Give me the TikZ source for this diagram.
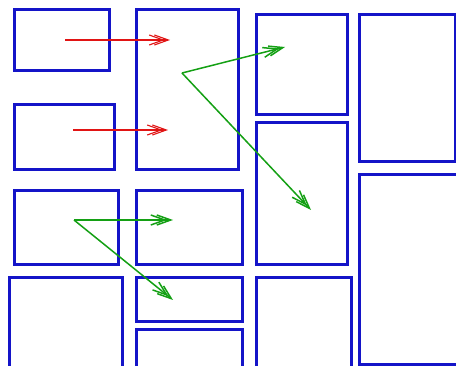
\documentclass[tikz,border=0pt]{standalone}
\usetikzlibrary{arrows.meta}
\definecolor{bx}{RGB}{20,20,200}
\definecolor{rd}{RGB}{225,20,20}
\definecolor{gr}{RGB}{20,160,20}
\tikzset{
  dbarb/.style={-{Straight Barb[length=14pt,width=10pt,sep=-11pt]Straight Barb[length=14pt,width=10pt]}},
  panel/.style={draw=bx, line width=2.6pt, inner sep=0pt, anchor=north west},
  redarrow/.style={draw=rd, line width=1.1pt, dbarb},
  greenarrow/.style={draw=gr, line width=1.5pt, dbarb}
}
\newcommand{\pbox}[5]{\node[panel, minimum width=#4-#2, minimum height=#5-#3] (#1) at (#2,#3) {};}
\begin{document}
\begin{tikzpicture}[x=1pt,y=-1pt]
\useasboundingbox (0,0) rectangle (456,366);
\clip (0,0) rectangle (456,366);
\fill[white] (0,0) rectangle (456,366);
\pbox{a1}{13}{8}{108}{69}
\pbox{a2}{13}{103}{113}{168}
\pbox{a3}{13}{189}{117}{263}
\pbox{a4}{8}{276}{121}{375}
\pbox{b1}{135}{8}{237}{168}
\pbox{b2}{135}{189}{241}{263}
\pbox{b3}{135}{276}{241}{320}
\pbox{b4}{135}{328}{241}{375}
\pbox{c1}{255}{13}{346}{113}
\pbox{c2}{255}{121}{346}{263}
\pbox{c3}{255}{276}{350}{375}
\pbox{d1}{358}{13}{454}{160}
\pbox{d2}{358}{173}{462}{363}
\coordinate (r1s) at (65,40);
\coordinate (r1e) at (170,40);
\coordinate (r2s) at (73,130);
\coordinate (r2e) at (168,130);
\coordinate (g1s) at (182,73);
\coordinate (g1e) at (285,47);
\coordinate (g2e) at (311,210);
\coordinate (g3s) at (74,220);
\coordinate (g3e) at (173,220);
\coordinate (g4e) at (173,300);
\draw[redarrow] (r1s) -- (r1e);
\draw[redarrow] (r2s) -- (r2e);
\draw[greenarrow] (g1s) -- (g1e);
\draw[greenarrow] (g1s) -- (g2e);
\draw[greenarrow] (g3s) -- (g3e);
\draw[greenarrow] (g3s) -- (g4e);
\end{tikzpicture}
\end{document}
